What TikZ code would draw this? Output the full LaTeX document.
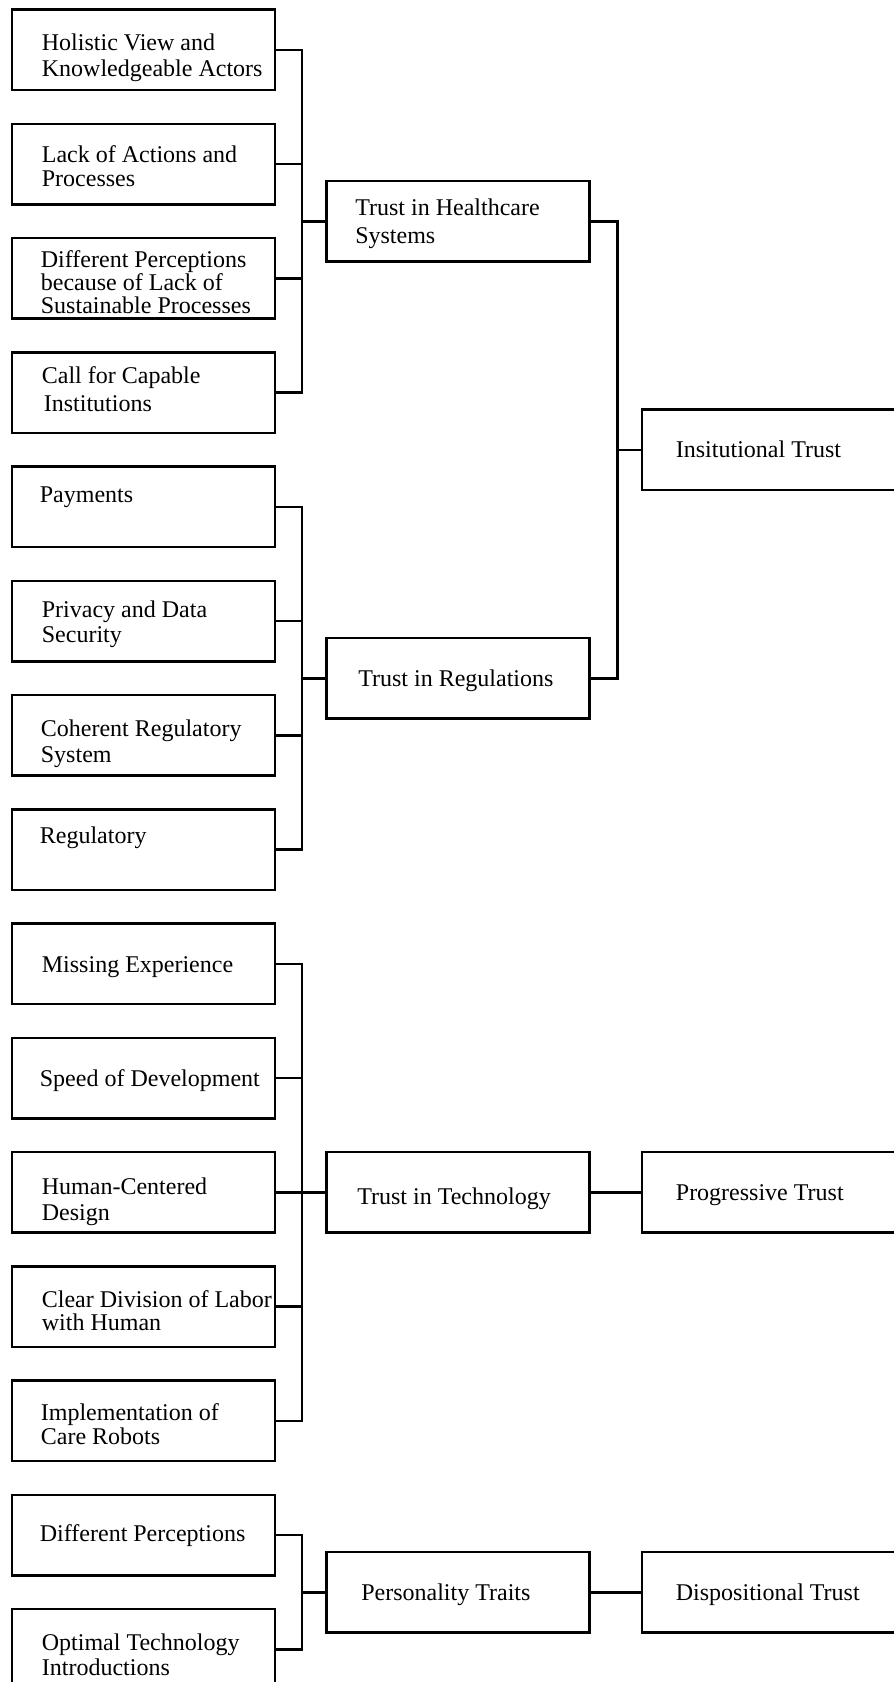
\documentclass[tikz,border=0pt]{standalone}
\usepackage{fontspec}
\setmainfont{Liberation Serif}
\usetikzlibrary{calc}
\tikzset{
  box/.style={draw, line width=2.6pt, minimum width=263pt, minimum height=80.5pt, inner sep=0pt},
  txt/.style={anchor=west, align=left, inner sep=0pt, xshift=1.2pt, yshift=-2.2pt, font=\fontsize{24}{#1}\selectfont},
  txt/.default=25,
  link/.style={line width=2.6pt}
}
\begin{document}
\begin{tikzpicture}[x=1pt,y=-1pt]
\useasboundingbox (0,0) rectangle (894,1682);
\clip (0,0) rectangle (894,1682);
% left boxes
\foreach \k/\y in {0/49.9,1/164.15,2/278.4,3/392.65,4/506.9,5/621.15,6/735.4,7/849.65,8/963.9,9/1078.15,10/1192.4,11/1306.65,12/1420.9,13/1535.15,14/1649.4}
  \node[box] (L\k) at (143.3,\y) {};
% middle boxes
\node[box] (H) at (457.7,221.3) {};
\node[box] (R) at (457.7,678.3) {};
\node[box] (T) at (457.7,1192.4) {};
\node[box] (P) at (457.7,1592.3) {};
% right boxes
\node[box] (I) at (773.3,449.8) {};
\node[box] (G) at (773.3,1192.4) {};
\node[box] (D) at (773.3,1592.3) {};
% texts
\node[txt=25.6] (tL0) at ($(L0.west)+(30,5.6)$) {Holistic View and\\Knowledgeable Actors};
\node[txt=24.3] (tL1) at ($(L1.west)+(30,0)$) {Lack of Actions and\\Processes};
\node[txt=23.2] (tL2) at ($(L2.west)+(29,1.5)$) {Different Perceptions\\because of Lack of\\Sustainable Processes};
\node[txt=28.3] (tL3) at ($(L3.west)+(30,-6)$) {Call for Capable\\\hspace{2pt}Institutions};
\node[txt] (tL4) at ($(L4.west)+(28,-12)$) {Payments};
\node[txt=24.5] (tL5) at ($(L5.west)+(30,1)$) {Privacy and Data\\Security};
\node[txt=25.5] (tL6) at ($(L6.west)+(29,6)$) {Coherent Regulatory\\System};
\node[txt] (tL7) at ($(L7.west)+(28,-13.6)$) {Regulatory};
\node[txt] (tL8) at ($(L8.west)+(30,1)$) {Missing Experience};
\node[txt] (tL9) at ($(L9.west)+(28,0)$) {Speed of Development};
\node[txt=26.5] (tL10) at ($(L10.west)+(30,7)$) {Human-Centered\\Design};
\node[txt=23.5] (tL11) at ($(L11.west)+(30,2)$) {Clear Division of Labor\\with Human};
\node[txt=24.5] (tL12) at ($(L12.west)+(29,1)$) {Implementation of\\Care Robots};
\node[txt] (tL13) at ($(L13.west)+(28,-2)$) {Different Perceptions};
\node[txt=25.6] (tL14) at ($(L14.west)+(30,3)$) {Optimal Technology\\Introductions};
\node[txt=28.3] (tH) at ($(H.west)+(29,0)$) {Trust in Healthcare\\Systems};
\node[txt] (tR) at ($(R.west)+(32,0)$) {Trust in Regulations};
\node[txt] (tT) at ($(T.west)+(31,4)$) {Trust in Technology};
\node[txt] (tP) at ($(P.west)+(35,0)$) {Personality Traits};
\node[txt] (tI) at ($(I.west)+(34,-3)$) {Insitutional Trust};
\node[txt] (tG) at ($(G.west)+(34,1)$) {Progressive Trust};
\node[txt] (tD) at ($(D.west)+(34,0)$) {Dispositional Trust};
% connectors
\foreach \k in {0,1,2,3} \draw[link] (L\k.east) -- ++(25.8,0) |- (H.west);
\foreach \k in {4,5,6,7} \draw[link] (L\k.east) -- ++(25.8,0) |- (R.west);
\foreach \k in {8,9,10,11,12} \draw[link] (L\k.east) -- ++(25.8,0) |- (T.west);
\foreach \k in {13,14} \draw[link] (L\k.east) -- ++(25.8,0) |- (P.west);
\draw[link] (H.east) -- ++(26.8,0) |- (I.west);
\draw[link] (R.east) -- ++(26.8,0) |- (I.west);
\draw[link] (T.east) -- (G.west);
\draw[link] (P.east) -- (D.west);
\end{tikzpicture}
\end{document}
